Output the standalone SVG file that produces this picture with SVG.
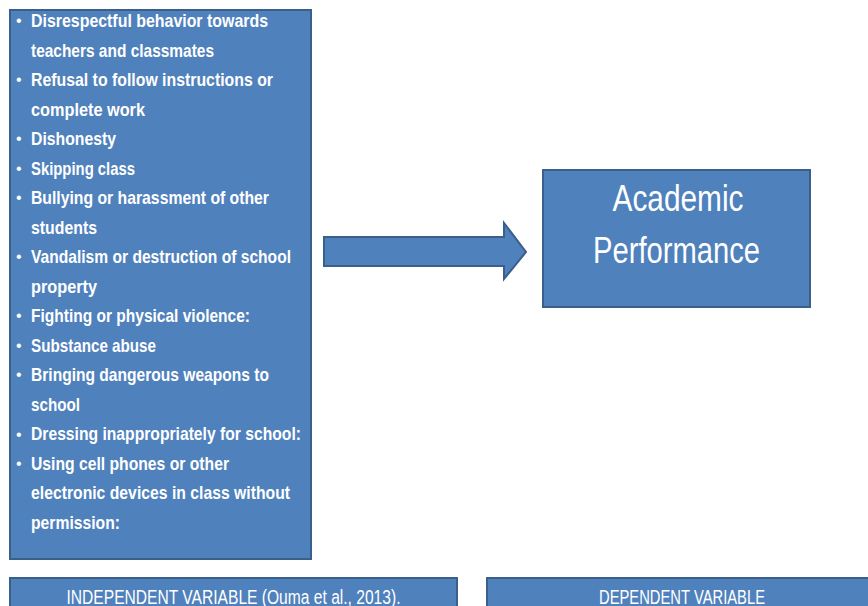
<svg xmlns="http://www.w3.org/2000/svg" width="868" height="606" viewBox="0 0 868 606">
  <style>
    .box { fill: #4F81BD; stroke: #3A5F8B; stroke-width: 2; }
    .item { font-family: "Liberation Sans", Arial, sans-serif; font-weight: bold; font-size: 18.5px; fill: #FFFFFF; }
    .dot { font-family: "Liberation Sans", Arial, sans-serif; font-size: 16px; fill: #FFFFFF; }
    .title { font-family: "Liberation Sans", Arial, sans-serif; font-size: 37px; fill: #FFFFFF; text-anchor: middle; }
    .label { font-family: "Liberation Sans", Arial, sans-serif; font-size: 19.5px; fill: #FFFFFF; text-anchor: middle; }
  </style>

  <rect width="868" height="606" fill="#FFFFFF"/>

  <!-- Independent variable: list of behaviours -->
  <g id="behaviours">
    <rect class="box" x="10" y="10" width="301" height="549"/>
    <g class="dot">
      <text x="16" y="26">•</text>
      <text x="16" y="85">•</text>
      <text x="16" y="144">•</text>
      <text x="16" y="174">•</text>
      <text x="16" y="203">•</text>
      <text x="16" y="262">•</text>
      <text x="16" y="321">•</text>
      <text x="16" y="351">•</text>
      <text x="16" y="380">•</text>
      <text x="16" y="440">•</text>
      <text x="16" y="469">•</text>
    </g>
    <g class="item">
      <text x="31" y="27" textLength="237" lengthAdjust="spacingAndGlyphs">Disrespectful behavior towards</text>
      <text x="31" y="56.5" textLength="183" lengthAdjust="spacingAndGlyphs">teachers and classmates</text>
      <text x="31" y="86" textLength="242" lengthAdjust="spacingAndGlyphs">Refusal to follow instructions or</text>
      <text x="31" y="115.5" textLength="114" lengthAdjust="spacingAndGlyphs">complete work</text>
      <text x="31" y="145" textLength="85" lengthAdjust="spacingAndGlyphs">Dishonesty</text>
      <text x="31" y="174.5" textLength="104" lengthAdjust="spacingAndGlyphs">Skipping class</text>
      <text x="31" y="204" textLength="238" lengthAdjust="spacingAndGlyphs">Bullying or harassment of other</text>
      <text x="31" y="233.5" textLength="66" lengthAdjust="spacingAndGlyphs">students</text>
      <text x="31" y="263" textLength="260" lengthAdjust="spacingAndGlyphs">Vandalism or destruction of school</text>
      <text x="31" y="292.5" textLength="66" lengthAdjust="spacingAndGlyphs">property</text>
      <text x="31" y="322" textLength="219" lengthAdjust="spacingAndGlyphs">Fighting or physical violence:</text>
      <text x="31" y="351.5" textLength="125" lengthAdjust="spacingAndGlyphs">Substance abuse</text>
      <text x="31" y="381" textLength="238" lengthAdjust="spacingAndGlyphs">Bringing dangerous weapons to</text>
      <text x="31" y="410.5" textLength="49" lengthAdjust="spacingAndGlyphs">school</text>
      <text x="31" y="440" textLength="270" lengthAdjust="spacingAndGlyphs">Dressing inappropriately for school:</text>
      <text x="31" y="469.5" textLength="198" lengthAdjust="spacingAndGlyphs">Using cell phones or other</text>
      <text x="31" y="499" textLength="259" lengthAdjust="spacingAndGlyphs">electronic devices in class without</text>
      <text x="31" y="528.5" textLength="89" lengthAdjust="spacingAndGlyphs">permission:</text>
    </g>
  </g>

  <!-- Dependent variable -->
  <g id="academic-performance">
    <rect class="box" x="543" y="170" width="267" height="137"/>
    <text class="title" x="678" y="211" textLength="131" lengthAdjust="spacingAndGlyphs">Academic</text>
    <text class="title" x="676.5" y="263" textLength="167" lengthAdjust="spacingAndGlyphs">Performance</text>
  </g>

  <!-- Connector: block arrow -->
  <g id="connectors">
    <polygon class="box" points="324,237 504,237 504,223 526,252 504,279 504,266 324,266"/>
  </g>

  <!-- Caption bars -->
  <g id="independent-label">
    <rect class="box" x="10" y="578" width="447" height="40"/>
    <text class="label" x="233.5" y="603.5" textLength="334" lengthAdjust="spacingAndGlyphs">INDEPENDENT VARIABLE (Ouma et al., 2013).</text>
  </g>
  <g id="dependent-label">
    <rect class="box" x="487" y="578" width="390" height="40"/>
    <text class="label" x="682" y="603.5" textLength="166" lengthAdjust="spacingAndGlyphs">DEPENDENT VARIABLE</text>
  </g>
</svg>
